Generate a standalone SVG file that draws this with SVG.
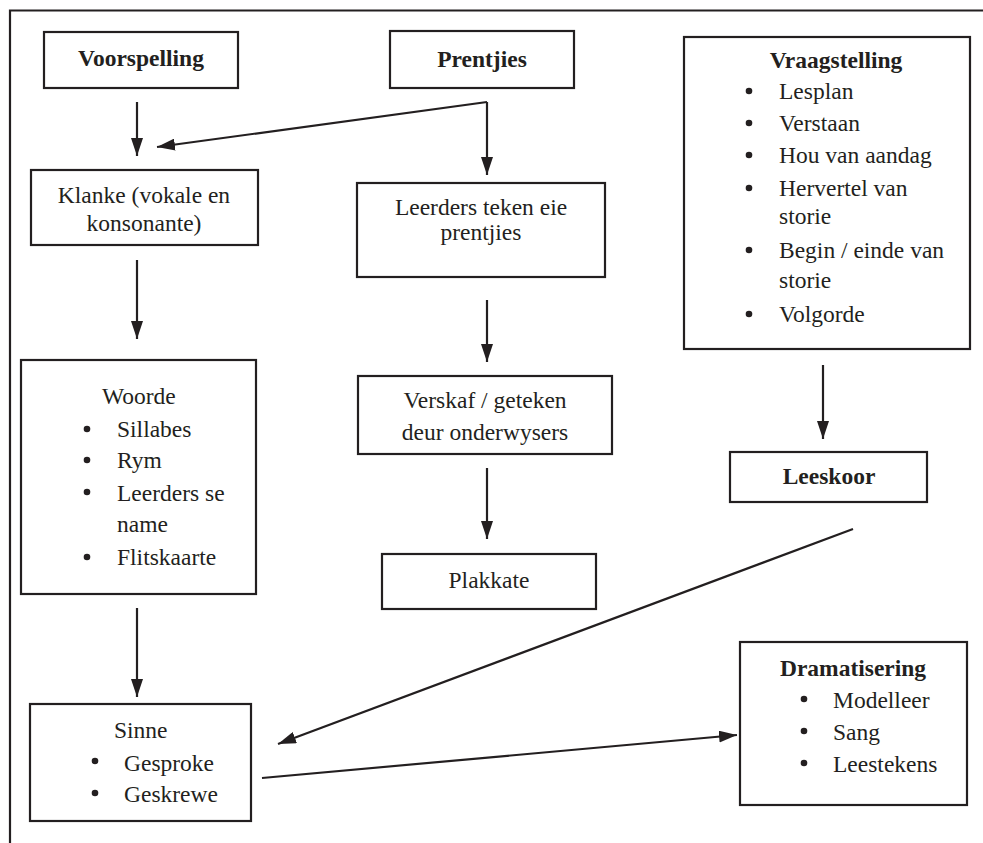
<svg xmlns="http://www.w3.org/2000/svg" width="983" height="843" viewBox="0 0 983 843">
<style>
  .box{fill:#fff;stroke:#231f20;stroke-width:2.2}
  .t{font-family:"Liberation Serif","Times New Roman",serif;font-size:23.5px;fill:#231f20}
  .b{font-weight:bold}
  .c{text-anchor:middle}
  .ln{stroke:#231f20;stroke-width:2.2;fill:none}
  .ar{stroke:#231f20;stroke-width:2.2;fill:none;marker-end:url(#ah)}
  .dot{fill:#231f20}
</style>
<defs>
  <marker id="ah" viewBox="0 0 18 12" refX="18" refY="6" markerWidth="18" markerHeight="12" markerUnits="userSpaceOnUse" orient="auto">
    <path d="M0,0 L18,6 L0,12 Z" fill="#231f20"/>
  </marker>
</defs>
<rect width="983" height="843" fill="#fff"/>
<g id="frame">
  <path class="ln" d="M10,843 L10,10.5 L983,10.5"/>
</g>
<g id="connectors">
  <line class="ar" x1="137" y1="102" x2="137" y2="156"/>
  <line class="ar" x1="487" y1="102" x2="157" y2="147"/>
  <line class="ar" x1="487" y1="102" x2="487" y2="175"/>
  <line class="ar" x1="137" y1="260" x2="137" y2="339"/>
  <line class="ar" x1="487" y1="300" x2="487" y2="362"/>
  <line class="ar" x1="487" y1="468" x2="487" y2="539"/>
  <line class="ar" x1="137" y1="608" x2="137" y2="697"/>
  <line class="ar" x1="823" y1="365" x2="823" y2="439"/>
  <line class="ar" x1="853" y1="529" x2="278" y2="744"/>
  <line class="ar" x1="262" y1="778" x2="737" y2="735"/>
</g>
<g id="voorspelling">
  <rect class="box" x="44" y="32" width="194" height="56"/>
  <text class="t b c" x="141" y="66">Voorspelling</text>
</g>
<g id="prentjies">
  <rect class="box" x="390" y="31" width="184" height="57"/>
  <text class="t b c" x="482" y="67">Prentjies</text>
</g>
<g id="vraagstelling">
  <rect class="box" x="684" y="37" width="286" height="312"/>
  <text class="t b c" x="836" y="68">Vraagstelling</text>
  <circle class="dot" cx="749" cy="91" r="3.3"/>
  <text class="t" x="779" y="99">Lesplan</text>
  <circle class="dot" cx="749" cy="123" r="3.3"/>
  <text class="t" x="779" y="131">Verstaan</text>
  <circle class="dot" cx="749" cy="155" r="3.3"/>
  <text class="t" x="779" y="163">Hou van aandag</text>
  <circle class="dot" cx="749" cy="188" r="3.3"/>
  <text class="t" x="779" y="196">Hervertel van</text>
  <text class="t" x="779" y="224">storie</text>
  <circle class="dot" cx="749" cy="250" r="3.3"/>
  <text class="t" x="779" y="258">Begin / einde van</text>
  <text class="t" x="779" y="288">storie</text>
  <circle class="dot" cx="749" cy="314" r="3.3"/>
  <text class="t" x="779" y="322">Volgorde</text>
</g>
<g id="klanke">
  <rect class="box" x="31" y="170" width="227" height="75"/>
  <text class="t c" x="144" y="203">Klanke (vokale en</text>
  <text class="t c" x="144" y="231">konsonante)</text>
</g>
<g id="leerders">
  <rect class="box" x="357" y="183" width="248" height="94"/>
  <text class="t c" x="481" y="215">Leerders teken eie</text>
  <text class="t c" x="481" y="240">prentjies</text>
</g>
<g id="woorde">
  <rect class="box" x="21" y="360" width="235" height="234"/>
  <text class="t" x="102" y="404">Woorde</text>
  <circle class="dot" cx="87" cy="429" r="3.3"/>
  <text class="t" x="117" y="437">Sillabes</text>
  <circle class="dot" cx="87" cy="460" r="3.3"/>
  <text class="t" x="117" y="468">Rym</text>
  <circle class="dot" cx="87" cy="492" r="3.3"/>
  <text class="t" x="117" y="501">Leerders se</text>
  <text class="t" x="117" y="532">name</text>
  <circle class="dot" cx="87" cy="557" r="3.3"/>
  <text class="t" x="117" y="565">Flitskaarte</text>
</g>
<g id="verskaf">
  <rect class="box" x="358" y="376" width="254" height="78"/>
  <text class="t c" x="485" y="408">Verskaf / geteken</text>
  <text class="t c" x="485" y="440">deur onderwysers</text>
</g>
<g id="plakkate">
  <rect class="box" x="382" y="554" width="214" height="55"/>
  <text class="t c" x="489" y="588">Plakkate</text>
</g>
<g id="leeskoor">
  <rect class="box" x="730" y="452" width="197" height="50"/>
  <text class="t b c" x="829" y="484">Leeskoor</text>
</g>
<g id="sinne">
  <rect class="box" x="30" y="704" width="221" height="117"/>
  <text class="t" x="114" y="738">Sinne</text>
  <circle class="dot" cx="95" cy="761" r="3.3"/>
  <text class="t" x="124" y="771">Gesproke</text>
  <circle class="dot" cx="95" cy="793" r="3.3"/>
  <text class="t" x="124" y="802">Geskrewe</text>
</g>
<g id="dramatisering">
  <rect class="box" x="740" y="642" width="227" height="163"/>
  <text class="t b c" x="853" y="676">Dramatisering</text>
  <circle class="dot" cx="804" cy="699" r="3.3"/>
  <text class="t" x="833" y="708">Modelleer</text>
  <circle class="dot" cx="804" cy="731" r="3.3"/>
  <text class="t" x="833" y="740">Sang</text>
  <circle class="dot" cx="804" cy="763" r="3.3"/>
  <text class="t" x="833" y="772">Leestekens</text>
</g>
</svg>
